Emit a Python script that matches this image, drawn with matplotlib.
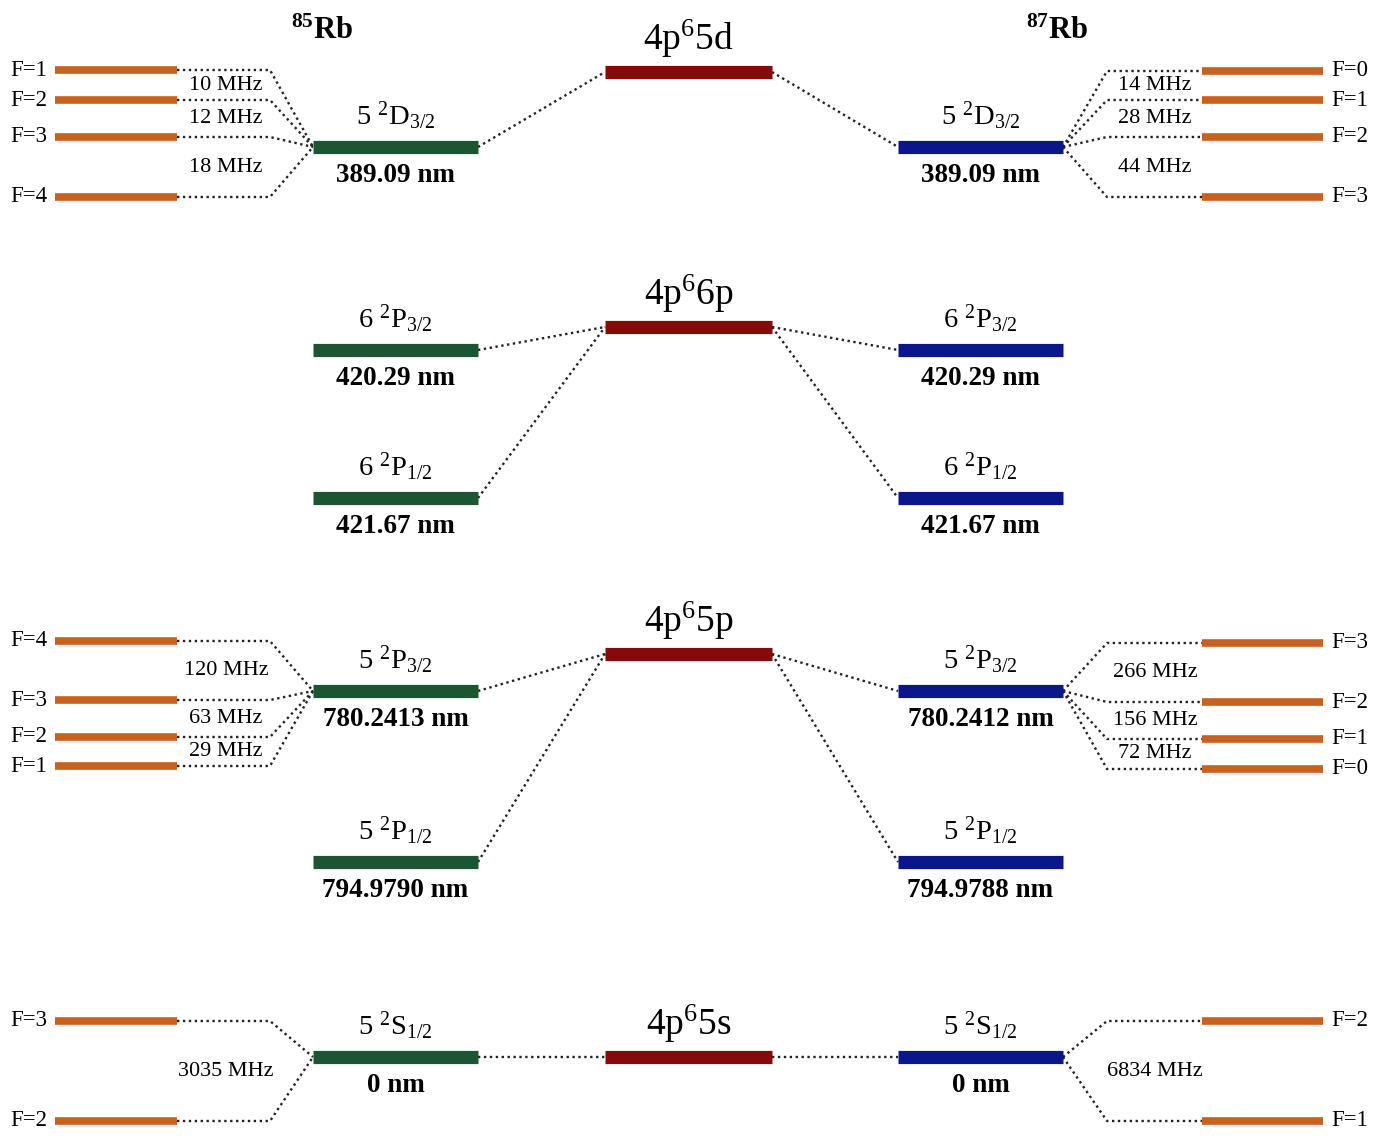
"""Rubidium 85/87 energy level diagram (fine + hyperfine structure)."""

import matplotlib
matplotlib.use("Agg")
import matplotlib.pyplot as plt

plt.rcParams["font.family"] = ["Liberation Serif", "DejaVu Serif"]
plt.rcParams["mathtext.fontset"] = "custom"
plt.rcParams["mathtext.rm"] = "Liberation Serif"
plt.rcParams["mathtext.it"] = "Liberation Serif:italic"
plt.rcParams["mathtext.bf"] = "Liberation Serif:bold"

# --- data -----------------------------------------------------------------
# electron configurations (centre column) and their diagram heights
configs = ["4p$^6$5d", "4p$^6$6p", "4p$^6$5p", "4p$^6$5s"]
config_y = [72, 327, 654, 1057]

# fine-structure terms, shared by both isotopes
terms = ["5 $^2$D$_{3/2}$", "6 $^2$P$_{3/2}$", "6 $^2$P$_{1/2}$",
         "5 $^2$P$_{3/2}$", "5 $^2$P$_{1/2}$", "5 $^2$S$_{1/2}$"]
term_y = [147, 350, 498, 691, 862, 1057]
term_parent = [0, 1, 1, 2, 2, 3]
rb85_wavelength = ["389.09", "420.29", "421.67", "780.2413", "794.9790", "0"]
rb87_wavelength = ["389.09", "420.29", "421.67", "780.2412", "794.9788", "0"]

# hyperfine manifolds: 85Rb
rb85_d_F = [1, 2, 3, 4]
rb85_d_y = [70, 100, 137, 197]
rb85_d_split = [10, 12, 18]
rb85_p_F = [4, 3, 2, 1]
rb85_p_y = [641, 700, 737, 766]
rb85_p_split = [120, 63, 29]
rb85_s_F = [3, 2]
rb85_s_y = [1021, 1121]
rb85_s_split = [3035]

# hyperfine manifolds: 87Rb
rb87_d_F = [0, 1, 2, 3]
rb87_d_y = [71, 100, 137, 197]
rb87_d_split = [14, 28, 44]
rb87_p_F = [3, 2, 1, 0]
rb87_p_y = [643, 702, 739, 769]
rb87_p_split = [266, 156, 72]
rb87_s_F = [2, 1]
rb87_s_y = [1021, 1121]
rb87_s_split = [6834]

# parent fine term index for each manifold
rb85_manifolds = [(0, rb85_d_F, rb85_d_y, rb85_d_split),
                  (3, rb85_p_F, rb85_p_y, rb85_p_split),
                  (5, rb85_s_F, rb85_s_y, rb85_s_split)]
rb87_manifolds = [(0, rb87_d_F, rb87_d_y, rb87_d_split),
                  (3, rb87_p_F, rb87_p_y, rb87_p_split),
                  (5, rb87_s_F, rb87_s_y, rb87_s_split)]

# --- layout / style -------------------------------------------------------
W, H = 1378, 1140
RED, GREEN, BLUE, ORANGE = "#850b0b", "#1c5531", "#0b168b", "#c8601e"
DOT = dict(color="#222222", lw=1.7, ls=(0, (1, 1.5)), zorder=1)

CENTER_X = (605, 772)
LEFT_X = (313, 478)
RIGHT_X = (898, 1063)
HF_LEFT_X = (55, 177)
HF_RIGHT_X = (1202, 1323)

fig = plt.figure(figsize=(W / 100, H / 100), dpi=100)
ax = fig.add_axes([0, 0, 1, 1])
ax.set_xlim(0, W)
ax.set_ylim(H, 0)
ax.axis("off")


def level(x0, x1, y, color, lw):
    ax.hlines(y, x0, x1, colors=color, lw=lw, zorder=3, capstyle="butt")


# centre configurations
cx = sum(CENTER_X) / 2
for name, y in zip(configs, config_y):
    level(*CENTER_X, y, RED, 9.5)
    ax.text(cx, y - 22, name, fontsize=27, ha="center", va="baseline")

# fine terms for both isotopes
for side, xs, color, waves in ((0, LEFT_X, GREEN, rb85_wavelength),
                               (1, RIGHT_X, BLUE, rb87_wavelength)):
    mx = sum(xs) / 2
    for term, y, parent, wl in zip(terms, term_y, term_parent, waves):
        level(*xs, y, color, 9.5)
        ax.text(mx, y - 22, term, fontsize=20.5, ha="center", va="baseline")
        ax.text(mx, y + 35, f"{wl} nm", fontsize=19.5, fontweight="bold",
                ha="center", va="baseline")
        py = config_y[parent]
        if side == 0:
            ax.plot([xs[1], CENTER_X[0]], [y, py], **DOT)
        else:
            ax.plot([CENTER_X[1], xs[0]], [py, y], **DOT)

# hyperfine manifolds
for side, manifolds in ((0, rb85_manifolds), (1, rb87_manifolds)):
    for parent, Fs, ys, splits in manifolds:
        fy = term_y[parent]
        for F, y in zip(Fs, ys):
            if side == 0:
                level(*HF_LEFT_X, y, ORANGE, 5.5)
                ax.plot([HF_LEFT_X[1], 270, LEFT_X[0]], [y, y, fy], **DOT)
                ax.text(29, y, f"F={F}", fontsize=16.5, ha="center", va="center")
            else:
                level(*HF_RIGHT_X, y, ORANGE, 5.5)
                ax.plot([RIGHT_X[1], 1107, HF_RIGHT_X[0]], [fy, y, y], **DOT)
                ax.text(1350, y, f"F={F}", fontsize=16.5, ha="center", va="center")
        sx = 226 if side == 0 else 1155
        for i, s in enumerate(splits):
            my = (ys[i] + ys[i + 1]) / 2
            ax.text(sx, my, f"{s} MHz", fontsize=16, ha="center", va="center",
                    zorder=4)

# isotope titles
ax.text(322, 39, r"$^{\mathbf{85}}$Rb", fontsize=22, fontweight="bold",
        ha="center", va="baseline")
ax.text(1057, 39, r"$^{\mathbf{87}}$Rb", fontsize=22, fontweight="bold",
        ha="center", va="baseline")

fig.savefig("out.png", dpi=100, facecolor="white")
